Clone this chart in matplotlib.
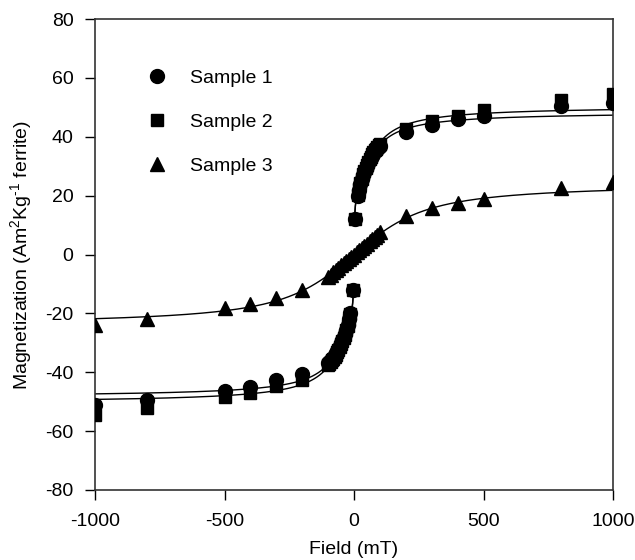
import numpy as np
import matplotlib
matplotlib.use("Agg")
import matplotlib.pyplot as plt

plt.rcParams['font.family'] = ['Liberation Sans', 'DejaVu Sans']
plt.rcParams['mathtext.fontset'] = 'custom'
plt.rcParams['mathtext.rm'] = 'Liberation Sans'
plt.rcParams['mathtext.it'] = 'Liberation Sans:italic'
plt.rcParams['axes.unicode_minus'] = False

# ---------------- data ----------------
dense_pos = [15, 20, 25, 30, 35, 40, 45, 50, 55, 60, 65, 70, 75, 80, 85, 90, 95, 100]
outer_pos = [200, 300, 400, 500, 800, 1000]

field_12_pos = [3] + dense_pos + outer_pos
s1_pos = [12, 20, 22, 24, 25.5, 27, 28, 29, 30, 31, 32, 32.8, 33.5, 34.2, 35, 35.5, 36, 36.5, 37,
          41.5, 44, 46, 47, 50.5, 51.5]
s2_pos = [12, 20.3, 22.3, 24.3, 25.8, 27.3, 28.4, 29.4, 30.4, 31.4, 32.4, 33.2, 34, 34.7, 35.5, 36, 36.6, 37.1, 37.6,
          42.5, 45.5, 47, 49, 52.5, 54.5]

field_12_neg = [-3] + [-v for v in dense_pos] + [-200, -300, -400, -500, -800, -1000]
s1_neg = [-12, -20, -22, -24, -25.5, -27, -28, -29, -30, -31, -32, -32.8, -33.5, -34.2, -35, -35.5, -36, -36.5, -37,
          -40.5, -42.7, -45, -46.4, -49.5, -51]
s2_neg = [-12, -20.3, -22.3, -24.3, -25.8, -27.3, -28.4, -29.4, -30.4, -31.4, -32.4, -33.2, -34, -34.7, -35.5, -36, -36.6, -37.1, -37.6,
          -42.5, -44.8, -47.2, -48.5, -52.3, -54.6]

field_3 = [-1000, -800, -500, -400, -300, -200, -100, -90, -80, -70, -60, -50, -40, -30, -20, -10, 0,
           10, 20, 30, 40, 50, 60, 70, 80, 90, 100, 200, 300, 400, 500, 800, 1000]
s3 = [-23.8, -22, -18, -16.7, -14.7, -12, -7.5, -6.8, -6.0, -5.3, -4.5, -3.7, -3.0, -2.2, -1.5, -0.7, 0,
      0.7, 1.5, 2.2, 3.0, 3.7, 4.5, 5.3, 6.0, 6.8, 7.5, 13, 15.7, 17.5, 19, 22.5, 24.5]

# fitted-curve parameters (two-component / single Langevin)
fit1 = dict(A=18.5, a=1.0, B=30.0, b=38.0)
fit2 = dict(A=19.0, a=1.0, B=31.5, b=40.0)
fit3 = dict(A=24.5, a=110.0, B=0.0, b=1.0)

xticks = [-1000, -500, 0, 500, 1000]
yticks = list(range(-80, 81, 20))


def langevin(t):
    t = np.asarray(t, dtype=float)
    out = np.empty_like(t)
    small = np.abs(t) < 1e-4
    out[small] = t[small] / 3.0
    ts = t[~small]
    out[~small] = 1.0 / np.tanh(ts) - 1.0 / ts
    return out


def model(x, p):
    return p['A'] * langevin(x / p['a']) + p['B'] * langevin(x / p['b'])


FS = 14
fig = plt.figure(figsize=(6.35, 5.6), dpi=100)
ax = fig.add_axes([0.1496, 0.125, 0.8158, 0.841])

# fitted lines
xp = np.concatenate([np.linspace(2, 20, 200), np.linspace(20, 1000, 500)])
xn = -xp[::-1]
for p in (fit1, fit2):
    ax.plot(xp, model(xp, p), color='black', lw=1.0, zorder=2)
    ax.plot(xn, model(xn, p), color='black', lw=1.0, zorder=2)
xf = np.linspace(-1000, 1000, 1001)
ax.plot(xf, model(xf, fit3), color='black', lw=1.0, zorder=2)

# data markers
ax.plot(field_12_pos + field_12_neg, s1_pos + s1_neg, 'o', color='black', ms=10, ls='none',
        label='Sample 1', zorder=3)
ax.plot(field_12_pos + field_12_neg, s2_pos + s2_neg, 's', color='black', ms=9, ls='none',
        label='Sample 2', zorder=3)
ax.plot(field_3, s3, '^', color='black', ms=10.5, ls='none', label='Sample 3', zorder=3)

ax.set_xlim(-1000, 1000)
ax.set_ylim(-80, 80)
ax.set_xticks(xticks)
ax.set_yticks(yticks)
ax.tick_params(direction='out', length=7.5, width=1, labelsize=FS, top=False, right=False)
ax.tick_params(axis='y', pad=8)
ax.tick_params(axis='x', pad=9)
for s in ax.spines.values():
    s.set_linewidth(1.2)
    s.set_color('#333333')

ax.set_xlabel('Field (mT)', fontsize=FS, labelpad=8)
ax.set_ylabel('Magnetization (Am$^{2}$Kg$^{\u2010 1}$ ferrite)', fontsize=FS, labelpad=8)

leg = ax.legend(loc='upper left', bbox_to_anchor=(0.086, 0.909), frameon=False, fontsize=FS,
                labelspacing=1.35, handletextpad=1.2, handlelength=1.0, borderaxespad=0)

fig.savefig('out.png', dpi=100)
